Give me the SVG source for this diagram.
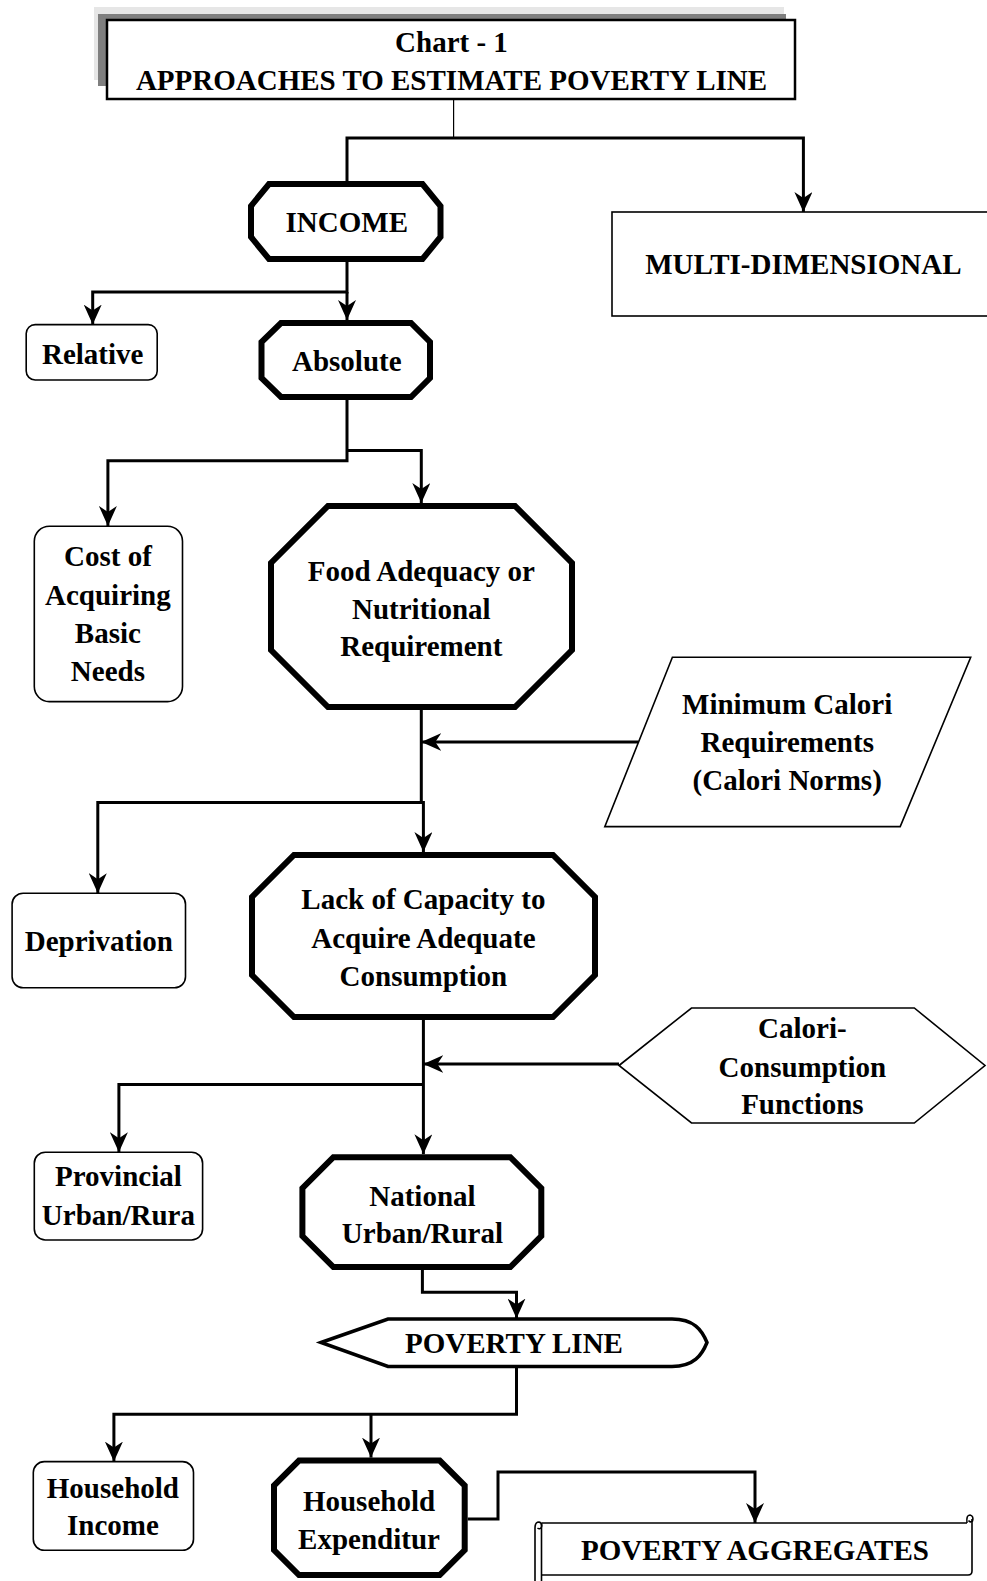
<svg xmlns="http://www.w3.org/2000/svg" width="987" height="1581" viewBox="0 0 987 1581">
<defs>
<marker id="arr" markerUnits="userSpaceOnUse" markerWidth="20" markerHeight="18" viewBox="0 0 20 18" refX="20" refY="9" orient="auto">
<path d="M0,0 L20,9 L0,18 L6,9 Z" fill="#000"/>
</marker>
</defs>
<style>
text{font-family:"Liberation Serif","Times New Roman",serif;font-weight:bold;font-size:29px;text-anchor:middle;fill:#000}
.thick{fill:#fff;stroke:#000;stroke-width:6;stroke-linejoin:miter}
.thin{fill:#fff;stroke:#000;stroke-width:1.6}
.conn{fill:none;stroke:#000;stroke-width:3}
.arrow{marker-end:url(#arr)}
</style>
<rect width="987" height="1581" fill="#fff"/>

<g id="title">
<rect x="94" y="7" width="690" height="73" fill="#e6e6e6"/>
<rect x="98" y="14" width="688" height="72" fill="#7f7f7f"/>
<rect x="107" y="20" width="688" height="79" fill="#fff" stroke="#000" stroke-width="2.5"/>
<text x="451.5" y="52">Chart - 1</text>
<text x="451.5" y="89.5">APPROACHES TO ESTIMATE POVERTY LINE</text>
</g>

<g id="connectors">
<path d="M453.6,99 V138" fill="none" stroke="#000" stroke-width="1.2"/>
<path class="conn arrow" d="M347,183 V138 H803.4 V212"/>
<path class="conn arrow" d="M347,262 V292 H92.7 V324.6"/>
<path class="conn arrow" d="M347,292 V320"/>
<path class="conn arrow" d="M347,400 V460.7 H107.9 V526"/>
<path class="conn arrow" d="M347,450.6 H421.3 V503"/>
<path class="conn arrow" d="M421.3,710 V802.4 H423.4 V852"/>
<path class="conn arrow" d="M638.6,742 H421.3"/>
<path class="conn arrow" d="M421.3,802.4 H97.8 V893.2"/>
<path class="conn arrow" d="M423.4,1020 V1154.2"/>
<path class="conn arrow" d="M619,1064 H423.4"/>
<path class="conn arrow" d="M423.4,1084.6 H118.9 V1152.2"/>
<path class="conn arrow" d="M422.4,1270 V1292.3 H516.5 V1318.5"/>
<path class="conn arrow" d="M516.5,1366.8 V1414.2 H113.9 V1461.6"/>
<path class="conn arrow" d="M371,1414.2 V1457.6"/>
<path class="conn arrow" d="M467.7,1519 H498 V1472 H755 V1523"/>
</g>

<g id="income">
<polygon class="thick" points="269,184 422.5,184 440.5,206 440.5,237 422.5,259 269,259 251,237 251,206"/>
<text x="346.8" y="231.5">INCOME</text>
</g>

<g id="multi">
<rect class="thin" x="612" y="212" width="385" height="104" stroke-width="2"/>
<text x="803.4" y="274">MULTI-DIMENSIONAL</text>
</g>

<g id="relative">
<rect class="thin" x="26.2" y="324.6" width="131" height="55.4" rx="9"/>
<text x="92.7" y="363.5">Relative</text>
</g>

<g id="absolute">
<polygon class="thick" points="281,323 411,323 430,342 430,378 411,397 281,397 261.5,378 261.5,342"/>
<text x="346.8" y="370.5">Absolute</text>
</g>

<g id="cost">
<rect class="thin" x="34.3" y="526.2" width="148.2" height="175.4" rx="15"/>
<text x="107.9" y="566">Cost of</text>
<text x="107.9" y="604.5">Acquiring</text>
<text x="107.9" y="643">Basic</text>
<text x="107.9" y="681">Needs</text>
</g>

<g id="food">
<polygon class="thick" points="328,506 515,506 572,563 572,650 515,707 328,707 271,650 271,563"/>
<text x="421.3" y="580.5">Food Adequacy or</text>
<text x="421.3" y="619">Nutritional</text>
<text x="421.3" y="656">Requirement</text>
</g>

<g id="mincal">
<polygon class="thin" points="672.4,657.2 970.7,657.2 900.2,826.6 604.8,826.6"/>
<text x="787.2" y="713.5">Minimum Calori</text>
<text x="787.2" y="752">Requirements</text>
<text x="787.2" y="790">(Calori Norms)</text>
</g>

<g id="deprivation">
<rect class="thin" x="12.1" y="893.2" width="173.4" height="94.6" rx="11"/>
<text x="98.8" y="951">Deprivation</text>
</g>

<g id="lack">
<polygon class="thick" points="294,855 553,855 595,897 595,975 553,1017 294,1017 252,975 252,897"/>
<text x="423.4" y="909">Lack of Capacity to</text>
<text x="423.4" y="947.5">Acquire Adequate</text>
<text x="423.4" y="985.5">Consumption</text>
</g>

<g id="calcons">
<polygon class="thin" points="619,1065.5 691.5,1008 914.3,1008 985,1065.5 914.3,1123 691.5,1123"/>
<text x="802.4" y="1038">Calori-</text>
<text x="802.4" y="1076.5">Consumption</text>
<text x="802.4" y="1114">Functions</text>
</g>

<g id="provincial">
<rect class="thin" x="34.3" y="1152.2" width="168.3" height="87.8" rx="11"/>
<text x="118.4" y="1186">Provincial</text>
<text x="118.4" y="1224.5">Urban/Rura</text>
</g>

<g id="national">
<polygon class="thick" points="333.4,1157.2 510.3,1157.2 541.3,1188.2 541.3,1236 510.3,1267 333.4,1267 302.4,1236 302.4,1188.2"/>
<text x="422.4" y="1205.5">National</text>
<text x="422.4" y="1243">Urban/Rural</text>
</g>

<g id="povline">
<path d="M321,1342.5 L388,1319 L672,1319 C694,1319 702,1330 707,1342.5 C702,1355 694,1366.5 672,1366.5 L388,1366.5 Z" fill="#fff" stroke="#000" stroke-width="3.5" stroke-linejoin="miter"/>
<text x="514" y="1352.5">POVERTY LINE</text>
</g>

<g id="hhincome">
<rect class="thin" x="33.3" y="1461.6" width="160.2" height="88.7" rx="11"/>
<text x="112.9" y="1497.5">Household</text>
<text x="112.9" y="1535">Income</text>
</g>

<g id="hhexp">
<polygon class="thick" points="299,1460.6 439.7,1460.6 464.7,1485.6 464.7,1550 439.7,1575 299,1575 274,1550 274,1485.6"/>
<text x="369" y="1511">Household</text>
<text x="369" y="1549">Expenditur</text>
</g>

<g id="povagg" fill="#fff" stroke="#000" stroke-width="1.6">
<path d="M541.5,1523 H968 V1581 H541.5 Z" stroke="none"/>
<path d="M541.5,1523 H967 M972,1519 V1571 Q972,1575 968,1575 H542" fill="none"/>
<path d="M535,1528 V1581 M541.5,1523 V1581" fill="none"/>
<path d="M535,1528 Q535,1522 539,1522 Q542.5,1523 541.5,1527 Q540,1530 537.5,1528" fill="none"/>
<path d="M967,1523 Q966,1515 970,1515 Q974,1516 972.5,1521 Q970.5,1523 968.5,1520.5" fill="none"/>
<text x="755" y="1559.5" stroke="none">POVERTY AGGREGATES</text>
</g>
</svg>
